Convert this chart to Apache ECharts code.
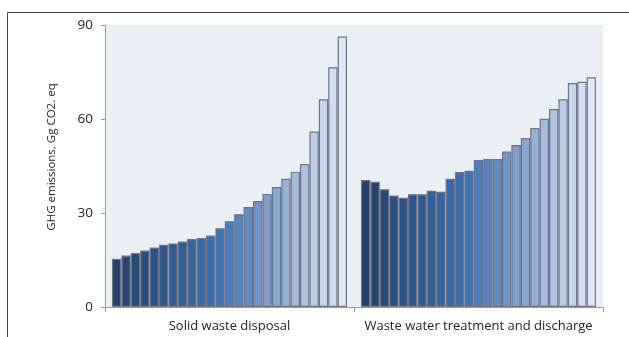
<!DOCTYPE html>
<html>
<head>
<meta charset="utf-8">
<script src="https://cdn.jsdelivr.net/npm/echarts@6/dist/echarts.min.js"></script>
<style>
html,body{margin:0;padding:0;background:#fff;}
#c{width:629px;height:337px;}
</style>
</head>
<body>
<div id="c"></div>
<script>
const categories = ['Solid waste disposal', 'Waste water treatment and discharge'];
const solidWaste = [15.4, 16.4, 17.2, 18.0, 19.0, 19.9, 20.3, 20.9, 21.7, 22.0, 22.8, 25.1, 27.4, 29.6, 31.9, 33.8, 36.1, 38.3, 40.9, 43.2, 45.6, 56.0, 66.3, 76.5, 86.3];
const wasteWater = [40.5, 40.0, 37.6, 35.6, 34.9, 36.0, 36.0, 37.1, 36.8, 40.9, 43.1, 43.5, 46.9, 47.2, 47.2, 49.6, 51.7, 53.9, 57.1, 60.1, 63.2, 66.3, 71.5, 71.9, 73.3];
const yTicks = [0, 30, 60, 90];
const barColors = ['#25426b','#284670','#2a4a77','#2c4e7e','#2d5284','#2f5689','#315b90','#335f97','#35649e','#3769a5','#3a6fad','#4074b5','#4a7cbb','#5784bf','#638cc3','#7096c8','#7d9fcc','#89a8d1','#95b1d6','#a1bbdb','#adc4e0','#b9cde5','#c5d5ea','#d1deef','#dee7f4'];

const series = solidWaste.map((v, i) => ({
  type: 'bar',
  data: [v, wasteWater[i]],
  barGap: 0,
  barCategoryGap: '5.6%',
  itemStyle: { color: barColors[i], borderColor: '#737387', borderWidth: 1.2 },
  silent: true
}));

const chart = echarts.init(document.getElementById('c'), null, {renderer: 'canvas'});
chart.setOption({
  animation: false,
  graphic: [
    { type: 'line', shape: { x1: 7.5, y1: 12.5, x2: 629, y2: 12.5 }, style: { stroke: '#444', lineWidth: 1 } },
    { type: 'line', shape: { x1: 7.5, y1: 12.5, x2: 7.5, y2: 337 }, style: { stroke: '#444', lineWidth: 1 } }
  ],
  grid: { left: 105, right: 26, top: 25, bottom: 30, show: true, backgroundColor: '#eaeff6', borderWidth: 0 },
  xAxis: {
    type: 'category',
    data: categories,
    axisLine: { lineStyle: { color: '#a09696', width: 1 } },
    axisTick: { show: true, length: 5, lineStyle: { color: '#a09696' } },
    axisLabel: { color: '#222', fontFamily: 'Open Sans', fontSize: 13, margin: 13, interval: 0 }
  },
  yAxis: {
    type: 'value',
    min: yTicks[0],
    max: yTicks[yTicks.length - 1],
    interval: 30,
    name: 'GHG emissions, Gg CO2. eq',
    nameLocation: 'middle',
    nameGap: 47,
    nameRotate: 90,
    nameTextStyle: { color: '#222', fontFamily: 'Open Sans', fontSize: 11.5, padding: [0, 0, 0, 18] },
    axisLine: { show: true, lineStyle: { color: '#a09696', width: 1 } },
    axisTick: { show: true, length: 4, lineStyle: { color: '#a09696' } },
    splitLine: { show: false },
    axisLabel: { color: '#222', fontFamily: 'Open Sans', fontSize: 13.5, margin: 12 }
  },
  series: series
});
</script>
</body>
</html>
